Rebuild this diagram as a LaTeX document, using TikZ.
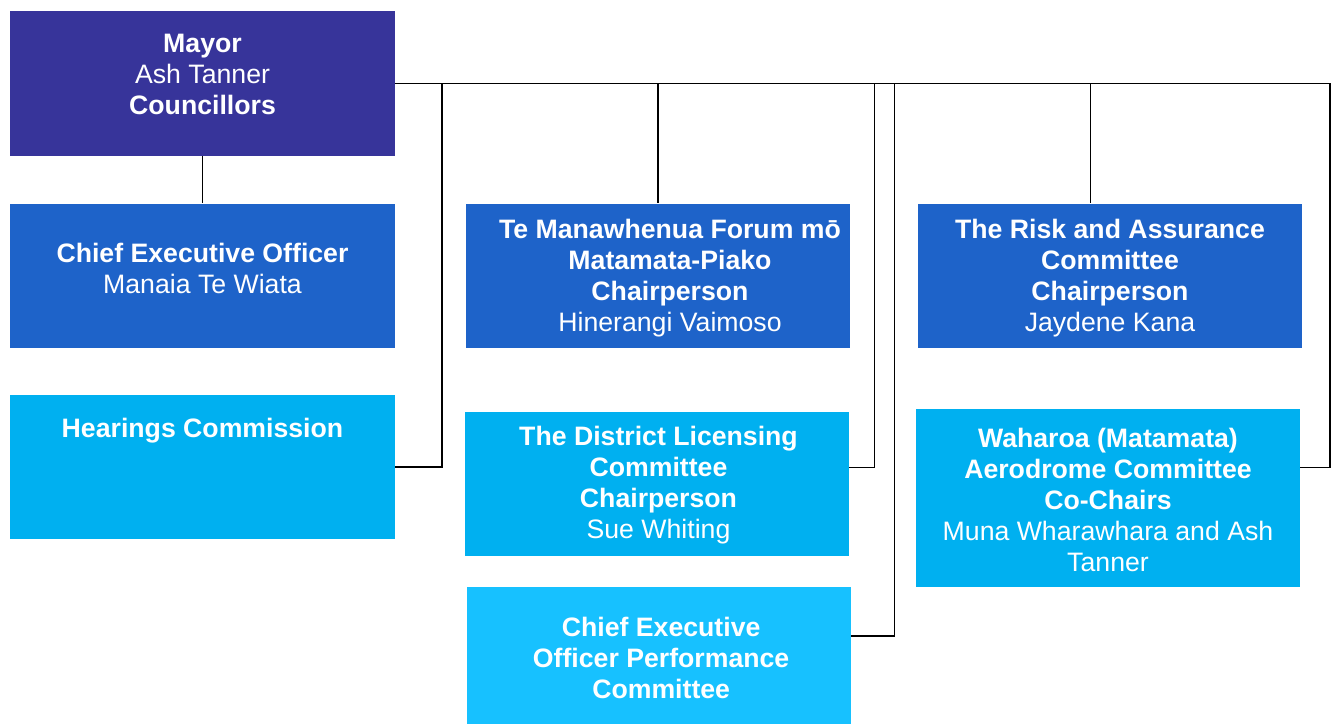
\documentclass[tikz,border=0pt]{standalone}
\usepackage{fontspec}
\setmainfont{Liberation Sans}
\definecolor{mayorcol}{HTML}{37349A}
\definecolor{ceocol}{HTML}{1E63C9}
\definecolor{comcol}{HTML}{00B0F0}
\definecolor{perfcol}{HTML}{17C1FF}

\begin{document}
\begin{tikzpicture}[x=0.75pt,y=-0.75pt,
        orgbox/.style={draw=none,inner sep=0pt,minimum width=288.75pt,minimum height=108pt},
        orgtext/.style={text=white,align=center,inner sep=0pt,font=\fontsize{20}{23.25}\selectfont},
        link/.style={draw=black,line width=1.1pt}]
        \useasboundingbox (0,0) rectangle (1336,724);

        \node[orgbox,fill=mayorcol,minimum height=108pt] (mayor) at (202.5,83.5) {};
        \node[orgbox,fill=ceocol] (ceo) at (202.5,275.5) {};
        \node[orgbox,fill=comcol] (hear) at (202.5,467) {};
        \node[orgbox,fill=ceocol,minimum width=288pt] (teman) at (658,275.5) {};
        \node[orgbox,fill=comcol,minimum width=288pt] (dlc) at (656.5,483.5) {};
        \node[orgbox,fill=perfcol,minimum width=288pt,minimum height=102.75pt] (ceop) at (658.5,655.5) {};
        \node[orgbox,fill=ceocol,minimum width=288pt] (risk) at (1110,275.5) {};
        \node[orgbox,fill=comcol,minimum width=288pt,minimum height=133.5pt] (wah) at (1108,498) {};

        \node[orgtext] (mayor-t) at ([yshift=7pt]mayor.center) {\textbf{Mayor}\\Ash Tanner\\\textbf{Councillors}};
        \node[orgtext] (ceo-t) at ([yshift=5pt]ceo.center) {\textbf{Chief Executive Officer}\\Manaia Te Wiata};
        \node[orgtext,anchor=north] (hear-t) at ([yshift=-17.5pt]hear.north) {\textbf{Hearings Commission}};
        \node[orgtext] (teman-t) at ([xshift=9pt,yshift=-2.2pt]teman.center) {\textbf{Te Manawhenua Forum mō}\\\textbf{Matamata-Piako}\\\textbf{Chairperson}\\Hinerangi Vaimoso};
        \node[orgtext] (dlc-t) at ([xshift=1.5pt,yshift=-1.5pt]dlc.center) {\textbf{The District Licensing}\\\textbf{Committee}\\\textbf{Chairperson}\\Sue Whiting};
        \node[orgtext] (ceop-t) at ([xshift=2pt,yshift=-2pt]ceop.center) {\textbf{Chief Executive}\\\textbf{Officer Performance}\\\textbf{Committee}};
        \node[orgtext] (risk-t) at ([yshift=-2.2pt]risk.center) {\textbf{The Risk and Assurance}\\\textbf{Committee}\\\textbf{Chairperson}\\Jaydene Kana};
        \node[orgtext] (wah-t) at ([yshift=-1.5pt]wah.center) {\textbf{Waharoa (Matamata)}\\\textbf{Aerodrome Committee}\\\textbf{Co-Chairs}\\Muna Wharawhara and Ash\\Tanner};

        % turning points of the elbow connectors
        \coordinate (hear-c) at (442,467);
        \coordinate (dlc-c) at (874.5,467.5);
        \coordinate (ceop-c) at (894.5,636);
        \coordinate (wah-c) at (1330,467.5);
        \coordinate (risk-c) at (1090.5,0);

        \path [link] (mayor) -- (ceo);
        \path [link] (mayor.east) -| (teman.north);
        \path [link] (mayor.east) -| (risk-c |- risk.north);
        \path [link] (mayor.east) -| (hear-c) -- (hear.east);
        \path [link] (mayor.east) -| (dlc-c) -- (dlc.east |- dlc-c);
        \path [link] (mayor.east) -| (ceop-c) -- (ceop.east |- ceop-c);
        \path [link] (mayor.east) -| (wah-c) -- (wah.east |- wah-c);
    \end{tikzpicture}
\end{document}
